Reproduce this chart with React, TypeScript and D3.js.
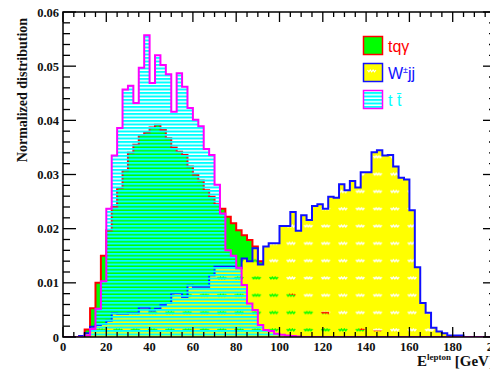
import React from 'react';
import * as d3 from 'd3';

// 80 bins of 2.5 GeV from 0 to 200
const binWidth = 2.5;
const nBins = 80;

const tqgValues = [
  0, 0, 0, 0.0002, 0.0014, 0.0053, 0.0100, 0.0150, 0.0197, 0.0240,
  0.0275, 0.0308, 0.0340, 0.0355, 0.0373, 0.0378, 0.0387, 0.0392, 0.0382, 0.0367,
  0.0350, 0.0342, 0.0336, 0.0315, 0.0300, 0.0289, 0.0271, 0.0259, 0.0245, 0.0237,
  0.0222, 0.0210, 0.0197, 0.0188, 0.0179, 0.0167, 0.0140, 0.0135, 0.0130, 0.0120,
  0.0110, 0.0090, 0.0080, 0.0075, 0.0060, 0.0055, 0.0050, 0.0045, 0.0045, 0.0040,
  0.0035, 0.0030, 0.0025, 0.0020, 0.0020, 0.0015, 0.0015, 0.0010, 0.0010, 0.0008,
  0.0006, 0.0005, 0.0004, 0.0003, 0.0002, 0.0001, 0, 0, 0, 0,
  0, 0, 0, 0, 0, 0, 0, 0, 0, 0,
];

const wjjValues = [
  0, 0, 0, 0.0002, 0.0007, 0.0019, 0.0022, 0.0024, 0.0030, 0.0044,
  0.0043, 0.0043, 0.0044, 0.0044, 0.0054, 0.0054, 0.0049, 0.0052, 0.0059, 0.0063,
  0.0081, 0.0081, 0.0074, 0.0095, 0.0093, 0.0093, 0.0093, 0.0114, 0.0130, 0.0130,
  0.0130, 0.0130, 0.0127, 0.0145, 0.0140, 0.0164, 0.0134, 0.0167, 0.0173, 0.0173,
  0.0205, 0.0205, 0.0231, 0.0196, 0.0225, 0.0216, 0.0242, 0.0245, 0.0237, 0.0259,
  0.0257, 0.0282, 0.0271, 0.0288, 0.0276, 0.0304, 0.0304, 0.0341, 0.0345, 0.0335,
  0.0336, 0.0315, 0.0294, 0.0291, 0.0234, 0.0129, 0.0063, 0.0045, 0.0017, 0.0010,
  0.0007, 0.0003, 0.0003, 0.0003, 0, 0, 0, 0, 0, 0,
];

const ttValues = [
  0, 0, 0, 0, 0.0003, 0.0015, 0.0052, 0.0103, 0.0237, 0.0335,
  0.0386, 0.0457, 0.0464, 0.0432, 0.0497, 0.0557, 0.0469, 0.0520, 0.0502, 0.0485,
  0.0416, 0.0487, 0.0462, 0.0423, 0.0401, 0.0389, 0.0347, 0.0336, 0.0281, 0.0228,
  0.0160, 0.0150, 0.0128, 0.0096, 0.0062, 0.0050, 0.0022, 0.0013, 0.0011, 0.0006,
  0.0004, 0.0003, 0.0002, 0.0001, 0, 0, 0, 0, 0, 0,
  0, 0, 0, 0, 0, 0, 0, 0, 0, 0,
  0, 0, 0, 0, 0, 0, 0, 0, 0, 0,
  0, 0, 0, 0, 0, 0, 0, 0, 0, 0,
];

const xTicks = [0, 20, 40, 60, 80, 100, 120, 140, 160, 180, 200];
const yTicks = [0, 0.01, 0.02, 0.03, 0.04, 0.05, 0.06];

const W = 490;
const H = 371;
const plot = { left: 63, right: 496, top: 12, bottom: 337 };

const x = d3.scaleLinear().domain([0, 200]).range([plot.left, plot.right]);
const y = d3.scaleLinear().domain([0, 0.06]).range([plot.bottom, plot.top]);

// step curve through all bins
const stepPoints = (vals: number[]): [number, number][] => {
  const pts: [number, number][] = [[0, 0]];
  vals.forEach((v, i) => {
    pts.push([i * binWidth, v]);
    pts.push([(i + 1) * binWidth, v]);
  });
  pts.push([nBins * binWidth, 0]);
  return pts;
};

const line = d3.line<[number, number]>().x(d => x(d[0])).y(d => y(d[1]));
const fillPath = (vals: number[]) => line(stepPoints(vals)) + 'Z';
const outlinePath = (vals: number[]) => line(stepPoints(vals).slice(1, -1));

const serif = '"Liberation Serif", "DejaVu Serif", serif';
const sans = '"Liberation Sans", Arial, sans-serif';

const wave = '0.5,1 1.9,2.8 3.3,1 4.7,2.8 6.1,1 7.5,2.8 8.9,1';

export default function App() {
  const minorX = d3.range(0, 200.01, 5);
  const minorY = d3.range(0, 0.0601, 0.002);

  return (
    <svg width={W} height={H} style={{ position: 'absolute', left: 0, top: 0, background: '#fff' }}>
      <defs>
        <clipPath id="plotClip">
          <rect x={plot.left} y={plot.top} width={plot.right - plot.left} height={plot.bottom - plot.top} />
        </clipPath>
        <pattern id="hatch" patternUnits="userSpaceOnUse" x={0} y={plot.bottom} width={8} height={3.5}>
          <rect x={0} y={0} width={8} height={2} fill="#00ffff" />
        </pattern>
        <pattern id="waves" patternUnits="userSpaceOnUse" x={269} y={plot.bottom - 9} width={17.3} height={17.3}>
          <polyline points={wave} fill="none" stroke="#000" strokeWidth={1.4} />
        </pattern>
        <mask id="wavesMask" maskUnits="userSpaceOnUse" x={0} y={0} width={W} height={H}>
          <rect x={0} y={0} width={W} height={H} fill="#fff" />
          <rect x={0} y={0} width={W} height={H} fill="url(#waves)" />
        </mask>
      </defs>

      <g clipPath="url(#plotClip)">
        {/* tq gamma */}
        <path d={fillPath(tqgValues)} fill="#00ff00" />
        <path d={outlinePath(tqgValues)} fill="none" stroke="#ff0000" strokeWidth={2} />
        {/* W jj */}
        <path d={fillPath(wjjValues)} fill="#ffff00" mask="url(#wavesMask)" />
        <path d={outlinePath(wjjValues)} fill="none" stroke="#1010ff" strokeWidth={2} />
        {/* t tbar */}
        <path d={fillPath(ttValues)} fill="url(#hatch)" />
        <path d={outlinePath(ttValues)} fill="none" stroke="#ff00ff" strokeWidth={2} />
      </g>

      {/* frame */}
      <rect x={plot.left} y={plot.top} width={plot.right - plot.left} height={plot.bottom - plot.top}
        fill="none" stroke="#000" strokeWidth={1.5} />

      {/* x ticks */}
      {minorX.map(v => {
        const major = v % 20 === 0;
        const len = major ? 10 : 5;
        return (
          <g key={'xt' + v}>
            <line x1={x(v)} x2={x(v)} y1={plot.bottom} y2={plot.bottom - len} stroke="#000" strokeWidth={1.3} />
            <line x1={x(v)} x2={x(v)} y1={plot.top} y2={plot.top + len} stroke="#000" strokeWidth={1.3} />
          </g>
        );
      })}
      {/* y ticks */}
      {minorY.map((v, i) => {
        const major = i % 5 === 0;
        const len = major ? 13 : 7;
        return (
          <g key={'yt' + i}>
            <line x1={plot.left} x2={plot.left + len} y1={y(v)} y2={y(v)} stroke="#000" strokeWidth={1.3} />
            <line x1={plot.right} x2={plot.right - len} y1={y(v)} y2={y(v)} stroke="#000" strokeWidth={1.3} />
          </g>
        );
      })}

      {xTicks.map(v => (
        <text key={'xl' + v} x={x(v)} y={plot.bottom + 14} textAnchor="middle"
          fontFamily={serif} fontWeight="bold" fontSize={12.5} fill="#111">{v}</text>
      ))}
      {yTicks.map(v => (
        <text key={'yl' + v} x={plot.left - 4} y={y(v) + 4.5} textAnchor="end"
          fontFamily={serif} fontWeight="bold" fontSize={12.5} fill="#111">{v === 0 ? '0' : v.toFixed(2)}</text>
      ))}

      <text transform="translate(27,90) rotate(-90)" textAnchor="middle" fontFamily={serif}
        fontWeight="bold" fontSize={14} fill="#111">Normalized distribution</text>

      <text x={417} y={366} fontFamily={serif} fontWeight="bold" fontSize={15} fill="#111">
        E<tspan fontSize={9} dy={-6}>lepton</tspan><tspan dy={6}> [GeV]</tspan>
      </text>

      {/* legend */}
      <rect x={363.5} y={36.5} width={19} height={18} fill="#00ff00" stroke="#ff0000" strokeWidth={1.5} />
      <text x={388} y={52} fontFamily={sans} fontSize={16} fill="#ff0000">tqγ</text>
      <rect x={363.5} y={63.5} width={19} height={18} fill="#ffff00" stroke="#1010ff" strokeWidth={1.5} />
      <polyline points={wave} transform="translate(367,69)" fill="none" stroke="#fff" strokeWidth={1.2} />
      <text x={388} y={79} fontFamily={sans} fontSize={16} fill="#1010ff">
        W<tspan fontSize={9} dy={-6}>±</tspan><tspan dy={6}>jj</tspan>
      </text>
      <rect x={363.5} y={90.5} width={19} height={18} fill="url(#hatch)" stroke="#ff00ff" strokeWidth={1.5} />
      <text x={388} y={106} fontFamily={sans} fontSize={16} fill="#00ffff">t t̄</text>
    </svg>
  );
}
